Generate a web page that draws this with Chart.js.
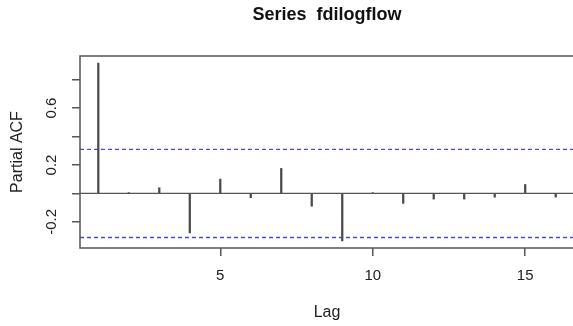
<!DOCTYPE html>
<html>
<head>
<meta charset="utf-8">
<script src="https://cdn.jsdelivr.net/npm/chart.js@4"></script>
<style>
  html, body { margin: 0; padding: 0; background: #ffffff; overflow: hidden; }
  #wrap { width: 654px; height: 326px; }
</style>
</head>
<body>
<div id="wrap"><canvas id="pacf" width="654" height="326"></canvas></div>
<script>
// Partial autocorrelations of fdilogflow, lags 1..16
const lags = [1, 2, 3, 4, 5, 6, 7, 8, 9, 10, 11, 12, 13, 14, 15, 16];
const pacfValues = [0.917, 0.003, 0.040, -0.278, 0.101, -0.030, 0.176, -0.090,
                    -0.334, 0.005, -0.070, -0.040, -0.040, -0.026, 0.063, -0.026];
// 95% significance bound
const ciBound = 0.31;

const yTickValues = [-0.2, 0, 0.2, 0.4, 0.6, 0.8];
const yTickLabelled = [-0.2, 0.2, 0.6];
const xTickValues = [5, 10, 15];

// axis limits padded by 4% on each side of the data range
function padded(lo, hi) {
  const d = (hi - lo) * 0.04;
  return [lo - d, hi + d];
}
const [xMin, xMax] = padded(Math.min(...lags), Math.max(...lags));
const [yMin, yMax] = padded(Math.min(-ciBound, ...pacfValues), Math.max(ciBound, ...pacfValues));

const FONT = '"Liberation Sans", Arial, sans-serif';
const INK = '#555555';

const framePlugin = {
  id: 'frame',
  beforeDatasetsDraw(chart) {
    const { ctx, chartArea: a, scales: { y } } = chart;
    ctx.save();
    // zero reference line
    ctx.strokeStyle = INK;
    ctx.lineWidth = 1.4;
    const y0 = y.getPixelForValue(0);
    ctx.beginPath();
    ctx.moveTo(a.left, y0);
    ctx.lineTo(a.right, y0);
    ctx.stroke();
    // significance bounds
    ctx.strokeStyle = '#4848e0';
    ctx.lineWidth = 1.3;
    ctx.setLineDash([4, 3]);
    for (const b of [ciBound, -ciBound]) {
      const yy = y.getPixelForValue(b);
      ctx.beginPath();
      ctx.moveTo(a.left, yy);
      ctx.lineTo(a.right, yy);
      ctx.stroke();
    }
    ctx.restore();
  },
  afterDraw(chart) {
    const { ctx, chartArea: a } = chart;
    ctx.save();
    ctx.strokeStyle = INK;
    ctx.lineWidth = 1.5;
    ctx.strokeRect(a.left, a.top, a.right - a.left, a.bottom - a.top);
    ctx.restore();
  }
};

new Chart(document.getElementById('pacf'), {
  type: 'bar',
  data: {
    datasets: [{
      data: lags.map((l, i) => ({ x: l, y: pacfValues[i] })),
      backgroundColor: '#4a4a4a',
      borderWidth: 0,
      barThickness: 1.6
    }]
  },
  plugins: [framePlugin],
  options: {
    responsive: false,
    animation: false,
    devicePixelRatio: 1,
    layout: { padding: { left: 0, right: 80, top: 0, bottom: 0 } },
    plugins: {
      legend: { display: false },
      tooltip: { enabled: false },
      title: {
        display: true,
        fullSize: false,
        text: 'Series  fdilogflow',
        color: '#111111',
        font: { family: FONT, size: 18, weight: 'bold' },
        padding: { top: 4, bottom: 30.4 }
      }
    },
    scales: {
      x: {
        type: 'linear',
        min: xMin,
        max: xMax,
        offset: false,
        afterBuildTicks: s => { s.ticks = xTickValues.map(v => ({ value: v })); },
        afterFit: s => { s.height = 78; },
        grid: { display: true, offset: false, drawOnChartArea: false, drawTicks: true, tickLength: 8, tickColor: INK, lineWidth: 1.5 },
        border: { display: false },
        ticks: {
          color: '#222222',
          font: { family: FONT, size: 15 },
          padding: 11,
          maxRotation: 0,
          callback: v => String(v)
        },
        title: {
          display: true,
          text: 'Lag',
          color: '#222222',
          font: { family: FONT, size: 16 },
          padding: { top: 0, bottom: 4 }
        }
      },
      y: {
        type: 'linear',
        min: yMin,
        max: yMax,
        afterBuildTicks: s => { s.ticks = yTickValues.map(v => ({ value: v })); },
        afterFit: s => { s.width = 80; },
        grid: { display: true, drawOnChartArea: false, drawTicks: true, tickLength: 8, tickColor: INK, lineWidth: 1.5 },
        border: { display: false },
        ticks: {
          color: '#222222',
          font: { family: FONT, size: 15 },
          minRotation: 90,
          maxRotation: 90,
          crossAlign: 'center',
          padding: 7,
          callback: v => yTickLabelled.some(l => Math.abs(l - v) < 1e-9) ? v.toFixed(1) : ''
        },
        title: {
          display: true,
          text: 'Partial ACF',
          color: '#222222',
          font: { family: FONT, size: 16 },
          padding: { top: 8, bottom: 0 }
        }
      }
    }
  }
});
</script>
</body>
</html>
